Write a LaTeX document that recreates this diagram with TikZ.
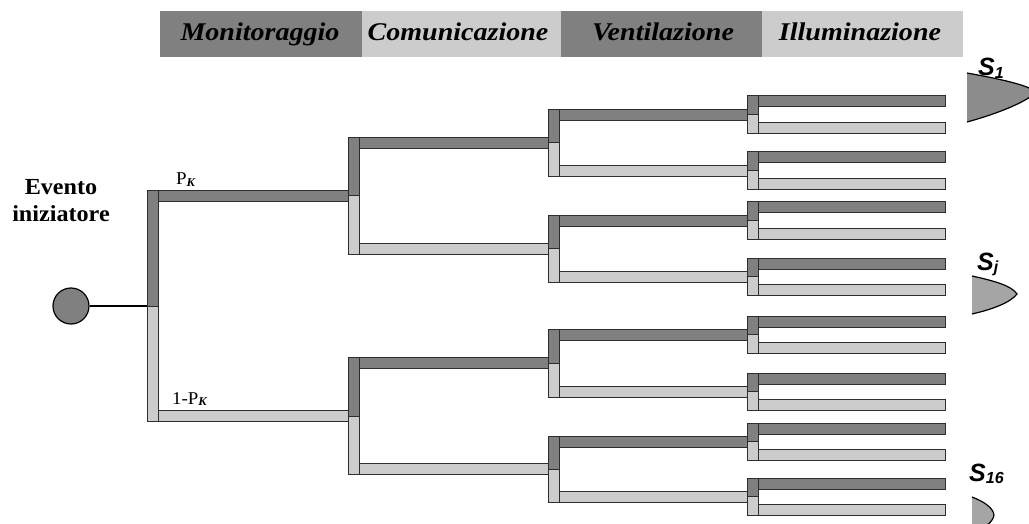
\documentclass[tikz,border=0pt]{standalone}
\usepackage{fontspec}
\setmainfont{Liberation Serif}
\newfontfamily\hdrfont[FakeStretch=1.1]{Liberation Serif}
\newfontfamily\lblfont[FakeStretch=1.05]{Liberation Serif}
\newfontfamily\sansfnt{Liberation Sans}
\definecolor{dk}{RGB}{128,128,128}
\definecolor{lt}{RGB}{204,204,204}
\definecolor{edge}{RGB}{45,45,45}
\definecolor{sdark}{RGB}{140,140,140}
\definecolor{smid}{RGB}{165,165,165}
\newcommand\treeblk[4]{%
  \draw[bar,fill=dk] ({#1+11},{#2-5.5}) rectangle (#4,{#2+5.5});
  \draw[bar,fill=lt] ({#1+11},{#3-5.5}) rectangle (#4,{#3+5.5});
  \draw[bar,fill=dk] (#1,{#2-5.5}) rectangle ({#1+11},{(#2+#3)/2});
  \draw[bar,fill=lt] (#1,{(#2+#3)/2}) rectangle ({#1+11},{#3+5.5});
}
\begin{document}
\begin{tikzpicture}[x=1pt,y=-1pt,
  bar/.style={draw=edge,line width=1pt},
  hdrtext/.style={anchor=base,inner sep=0pt,font=\hdrfont\bfseries\itshape\fontsize{25.5}{30}\selectfont},
  slabel/.style={anchor=base west,inner sep=0pt,font=\sansfnt\bfseries\itshape\fontsize{25}{28}\selectfont},
  sshape/.style={draw=black,line width=1.2pt}]
\useasboundingbox (0,0) rectangle (1029,524);
\clip (0,0) rectangle (1029,524);
% header
\fill[dk] (160,11) rectangle (362,57);
\fill[lt] (362,11) rectangle (561,57);
\fill[dk] (561,11) rectangle (762,57);
\fill[lt] (762,11) rectangle (963,57);
\node[hdrtext] (h1) at (260,41) {Monitoraggio};
\node[hdrtext] (h2) at (458,41) {Comunicazione};
\node[hdrtext] (h3) at (663,41) {Ventilazione};
\node[hdrtext] (h4) at (860,41) {Illuminazione};
% level 4 blocks (x 747..758), leaves to 945
\treeblk{747}{101.5}{128}{945}
\treeblk{747}{157.5}{184}{945}
\treeblk{747}{207.5}{234}{945}
\treeblk{747}{263.5}{290}{945}
\treeblk{747}{321.5}{348}{945}
\treeblk{747}{378.5}{405}{945}
\treeblk{747}{428.5}{455}{945}
\treeblk{747}{483.5}{510}{945}
% level 3 blocks
\treeblk{548}{114.75}{170.75}{747}
\treeblk{548}{220.75}{276.75}{747}
\treeblk{548}{334.75}{391.75}{747}
\treeblk{548}{441.75}{496.75}{747}
% level 2 blocks
\treeblk{348}{142.75}{248.75}{548}
\treeblk{348}{363.25}{469.25}{548}
% level 1 block
\treeblk{147}{195.75}{416.25}{348}
% initiating event
\node[circle,draw=black,line width=1.2pt,fill=dk,minimum size=36pt,inner sep=0pt] (ev) at (71,306) {};
\coordinate (root) at (147,306);
\draw[line width=1.2pt] (ev.east) -- (root);
\node[anchor=base,align=center,inner sep=0pt,font=\lblfont\bfseries\fontsize{23}{27}\selectfont] (evl) at (61,222) {Evento\\iniziatore};
% probabilities
\node[anchor=base west,inner sep=0pt,font=\lblfont\fontsize{18}{20}\selectfont] (pk) at (176,185) {P\raisebox{-1.5pt}{\fontsize{12}{13}\selectfont\bfseries\itshape K}};
\node[anchor=base west,inner sep=0pt,font=\lblfont\fontsize{18}{20}\selectfont] (qk) at (172,404) {1-P\raisebox{-1.5pt}{\fontsize{12}{13}\selectfont\bfseries\itshape K}};
% outcomes
\fill[sdark] (967,73) .. controls (1000,79) and (1028,85) .. (1036,92) .. controls (1028,101) and (1000,113) .. (967,122) -- cycle;
\draw[sshape] (967,73) .. controls (1000,79) and (1028,85) .. (1036,92) .. controls (1028,101) and (1000,113) .. (967,122);
\fill[smid] (972,276) .. controls (995,281) and (1012,286) .. (1017,294) .. controls (1011,302) and (994,309) .. (972,314) -- cycle;
\draw[sshape] (972,276) .. controls (995,281) and (1012,286) .. (1017,294) .. controls (1011,302) and (994,309) .. (972,314);
\fill[smid] (972,497) .. controls (985,502) and (993,508) .. (994,515) .. controls (993,522) and (985,528) .. (972,533) -- cycle;
\draw[sshape] (972,497) .. controls (985,502) and (993,508) .. (994,515) .. controls (993,522) and (985,528) .. (972,533);
\node[slabel] (s1) at (978,76) {S\raisebox{-2.5pt}{\fontsize{16}{17}\selectfont 1}};
\node[slabel] (sj) at (977,270) {S\raisebox{-2.5pt}{\fontsize{16}{17}\selectfont j}};
\node[slabel] (s16) at (969,481) {S\raisebox{-2.5pt}{\fontsize{16}{17}\selectfont 16}};
\end{tikzpicture}
\end{document}
